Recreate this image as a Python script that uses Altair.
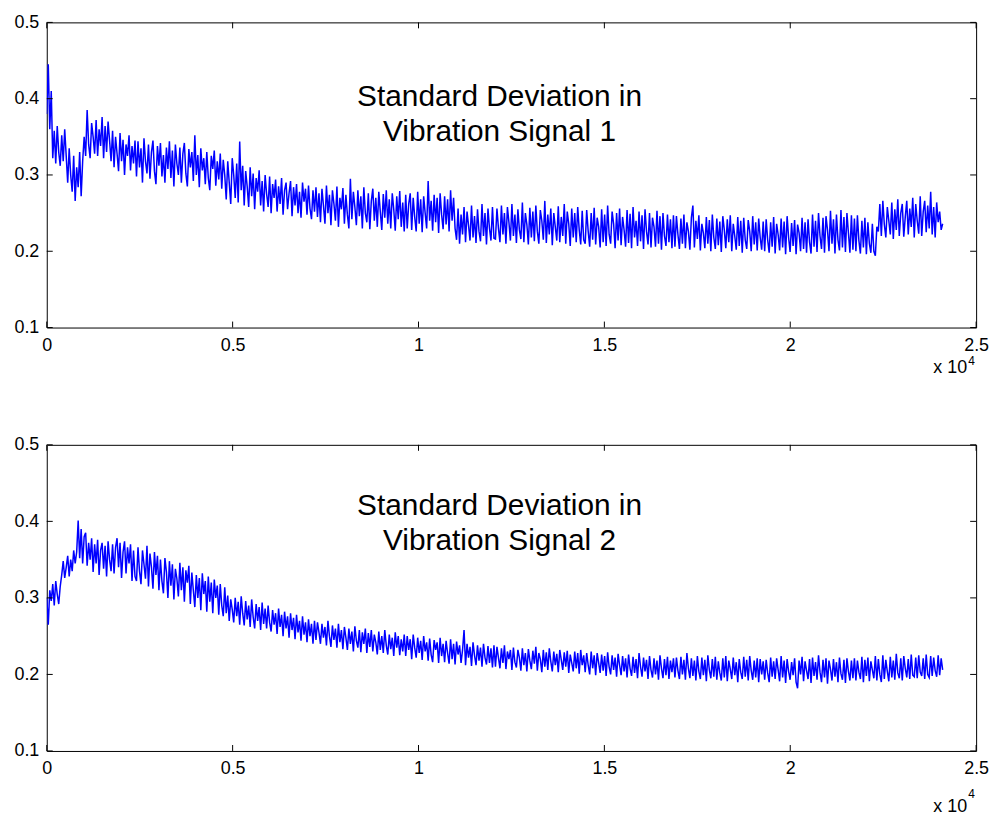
import altair as alt
import numpy as np
import pandas as pd

# ---- Signal 1 (standard deviation, 10 segments of 60 samples) ----
sig1_seg0 = [0.38, 0.445, 0.36, 0.41, 0.322, 0.358, 0.315, 0.364, 0.33, 0.312,
             0.352, 0.318, 0.36, 0.325, 0.29, 0.335, 0.3, 0.278, 0.325, 0.266,
             0.31, 0.284, 0.33, 0.272, 0.318, 0.35, 0.325, 0.385, 0.34, 0.322,
             0.368, 0.35, 0.328, 0.372, 0.325, 0.36, 0.338, 0.376, 0.322, 0.364,
             0.33, 0.37, 0.345, 0.318, 0.358, 0.31, 0.35, 0.328, 0.305, 0.355,
             0.318, 0.346, 0.3, 0.34, 0.325, 0.352, 0.306, 0.338, 0.315, 0.345]
sig1_seg1 = [0.298, 0.344, 0.31, 0.335, 0.29, 0.348, 0.318, 0.302, 0.34, 0.295,
             0.33, 0.345, 0.305, 0.288, 0.338, 0.312, 0.342, 0.298, 0.326, 0.29,
             0.336, 0.308, 0.344, 0.296, 0.332, 0.285, 0.34, 0.315, 0.3, 0.336,
             0.29, 0.328, 0.342, 0.302, 0.285, 0.334, 0.31, 0.33, 0.292, 0.352,
             0.3, 0.326, 0.284, 0.335, 0.306, 0.322, 0.288, 0.33, 0.296, 0.28,
             0.325, 0.308, 0.332, 0.286, 0.318, 0.294, 0.328, 0.282, 0.32, 0.3]
sig1_seg2 = [0.268, 0.318, 0.29, 0.262, 0.322, 0.3, 0.27, 0.315, 0.264, 0.344,
             0.28, 0.312, 0.26, 0.305, 0.285, 0.258, 0.31, 0.272, 0.302, 0.255,
             0.296, 0.278, 0.306, 0.26, 0.292, 0.252, 0.3, 0.275, 0.258, 0.298,
             0.25, 0.288, 0.27, 0.294, 0.252, 0.285, 0.262, 0.296, 0.248, 0.28,
             0.29, 0.255, 0.276, 0.292, 0.246, 0.284, 0.26, 0.288, 0.25, 0.278,
             0.244, 0.29, 0.265, 0.282, 0.248, 0.286, 0.256, 0.242, 0.28, 0.252]
sig1_seg3 = [0.284, 0.245, 0.276, 0.238, 0.282, 0.26, 0.236, 0.286, 0.25, 0.274,
             0.234, 0.28, 0.262, 0.24, 0.285, 0.232, 0.27, 0.255, 0.283, 0.236,
             0.274, 0.248, 0.23, 0.295, 0.242, 0.278, 0.258, 0.234, 0.28, 0.246,
             0.272, 0.23, 0.284, 0.25, 0.238, 0.276, 0.229, 0.266, 0.282, 0.24,
             0.27, 0.232, 0.278, 0.252, 0.228, 0.275, 0.244, 0.28, 0.236, 0.268,
             0.23, 0.276, 0.255, 0.227, 0.272, 0.242, 0.279, 0.232, 0.264, 0.226]
sig1_seg4 = [0.274, 0.23, 0.262, 0.276, 0.228, 0.27, 0.245, 0.226, 0.278, 0.236,
             0.268, 0.225, 0.272, 0.25, 0.23, 0.292, 0.24, 0.266, 0.227, 0.274,
             0.238, 0.27, 0.224, 0.276, 0.248, 0.229, 0.272, 0.235, 0.268, 0.226,
             0.28, 0.24, 0.27, 0.23, 0.215, 0.256, 0.21, 0.248, 0.222, 0.258,
             0.212, 0.252, 0.234, 0.214, 0.26, 0.218, 0.246, 0.211, 0.255, 0.226,
             0.213, 0.262, 0.22, 0.25, 0.209, 0.256, 0.23, 0.214, 0.258, 0.217]
sig1_seg5 = [0.216, 0.256, 0.23, 0.212, 0.26, 0.222, 0.25, 0.21, 0.258, 0.238,
             0.214, 0.262, 0.22, 0.248, 0.211, 0.255, 0.228, 0.216, 0.264, 0.212,
             0.25, 0.235, 0.209, 0.257, 0.218, 0.252, 0.213, 0.26, 0.226, 0.21,
             0.254, 0.24, 0.215, 0.266, 0.211, 0.248, 0.222, 0.256, 0.208, 0.25,
             0.232, 0.214, 0.259, 0.212, 0.245, 0.22, 0.262, 0.21, 0.252, 0.236,
             0.207, 0.256, 0.218, 0.25, 0.212, 0.258, 0.228, 0.209, 0.253, 0.215]
sig1_seg6 = [0.21, 0.254, 0.226, 0.206, 0.25, 0.215, 0.257, 0.209, 0.244, 0.232,
             0.205, 0.255, 0.212, 0.248, 0.207, 0.26, 0.222, 0.21, 0.252, 0.236,
             0.204, 0.25, 0.214, 0.256, 0.208, 0.245, 0.228, 0.206, 0.254, 0.211,
             0.249, 0.204, 0.258, 0.218, 0.24, 0.207, 0.252, 0.213, 0.247, 0.203,
             0.255, 0.226, 0.209, 0.25, 0.205, 0.244, 0.232, 0.206, 0.253, 0.21,
             0.246, 0.202, 0.25, 0.22, 0.207, 0.248, 0.212, 0.242, 0.204, 0.247]
sig1_seg7 = [0.206, 0.246, 0.222, 0.203, 0.243, 0.21, 0.248, 0.204, 0.238, 0.226,
             0.202, 0.244, 0.26, 0.205, 0.24, 0.216, 0.247, 0.201, 0.236, 0.224,
             0.204, 0.245, 0.21, 0.241, 0.2, 0.248, 0.218, 0.203, 0.243, 0.208,
             0.239, 0.199, 0.246, 0.228, 0.204, 0.242, 0.212, 0.247, 0.2, 0.236,
             0.22, 0.202, 0.245, 0.207, 0.24, 0.198, 0.244, 0.215, 0.203, 0.241,
             0.226, 0.2, 0.246, 0.209, 0.238, 0.201, 0.243, 0.218, 0.202, 0.239]
sig1_seg8 = [0.2, 0.242, 0.215, 0.198, 0.238, 0.206, 0.245, 0.197, 0.236, 0.222,
             0.201, 0.243, 0.205, 0.239, 0.196, 0.246, 0.218, 0.199, 0.237, 0.207,
             0.241, 0.196, 0.235, 0.224, 0.2, 0.244, 0.203, 0.238, 0.198, 0.242,
             0.212, 0.197, 0.248, 0.206, 0.24, 0.199, 0.25, 0.22, 0.203, 0.244,
             0.198, 0.246, 0.228, 0.2, 0.253, 0.21, 0.242, 0.197, 0.248, 0.215,
             0.201, 0.254, 0.205, 0.245, 0.199, 0.25, 0.224, 0.198, 0.247, 0.202]
sig1_seg9 = [0.243, 0.2, 0.247, 0.214, 0.197, 0.24, 0.205, 0.244, 0.196, 0.238,
             0.21, 0.198, 0.236, 0.2, 0.194, 0.232, 0.226, 0.262, 0.22, 0.266,
             0.235, 0.218, 0.258, 0.24, 0.222, 0.264, 0.216, 0.255, 0.228, 0.268,
             0.22, 0.25, 0.262, 0.219, 0.245, 0.266, 0.222, 0.256, 0.232, 0.27,
             0.218, 0.262, 0.24, 0.223, 0.272, 0.22, 0.252, 0.266, 0.225, 0.26,
             0.23, 0.278, 0.222, 0.258, 0.218, 0.264, 0.238, 0.252, 0.228, 0.236]

# ---- Signal 2 ----
sig2_seg0 = [0.3, 0.265, 0.31, 0.296, 0.318, 0.29, 0.322, 0.305, 0.292, 0.315,
             0.33, 0.348, 0.326, 0.34, 0.355, 0.328, 0.35, 0.335, 0.362, 0.345,
             0.36, 0.401, 0.352, 0.39, 0.345, 0.38, 0.385, 0.342, 0.372, 0.35,
             0.378, 0.334, 0.37, 0.345, 0.376, 0.33, 0.362, 0.372, 0.338, 0.368,
             0.328, 0.374, 0.35, 0.335, 0.37, 0.332, 0.366, 0.378, 0.34, 0.372,
             0.326, 0.36, 0.374, 0.332, 0.366, 0.345, 0.37, 0.322, 0.362, 0.328]
sig2_seg1 = [0.322, 0.366, 0.335, 0.318, 0.362, 0.344, 0.325, 0.368, 0.315, 0.358,
             0.34, 0.312, 0.36, 0.33, 0.355, 0.31, 0.35, 0.322, 0.306, 0.352,
             0.334, 0.3, 0.348, 0.316, 0.344, 0.298, 0.338, 0.325, 0.302, 0.346,
             0.31, 0.34, 0.295, 0.336, 0.32, 0.342, 0.292, 0.333, 0.31, 0.288,
             0.33, 0.3, 0.326, 0.284, 0.332, 0.305, 0.322, 0.282, 0.328, 0.295,
             0.32, 0.28, 0.324, 0.3, 0.316, 0.278, 0.318, 0.29, 0.276, 0.314]
sig2_seg2 = [0.28, 0.303, 0.27, 0.298, 0.285, 0.268, 0.3, 0.276, 0.295, 0.265,
             0.302, 0.28, 0.264, 0.296, 0.272, 0.29, 0.262, 0.298, 0.275, 0.26,
             0.292, 0.27, 0.288, 0.258, 0.294, 0.266, 0.286, 0.26, 0.29, 0.268,
             0.256, 0.284, 0.265, 0.28, 0.253, 0.286, 0.262, 0.278, 0.25, 0.282,
             0.26, 0.276, 0.248, 0.28, 0.258, 0.274, 0.246, 0.278, 0.255, 0.27,
             0.244, 0.276, 0.252, 0.268, 0.242, 0.272, 0.25, 0.266, 0.24, 0.27]
sig2_seg3 = [0.245, 0.268, 0.255, 0.24, 0.266, 0.248, 0.262, 0.238, 0.27, 0.25,
             0.236, 0.264, 0.245, 0.26, 0.235, 0.266, 0.242, 0.258, 0.233, 0.262,
             0.248, 0.232, 0.26, 0.24, 0.256, 0.23, 0.263, 0.244, 0.235, 0.258,
             0.229, 0.255, 0.24, 0.26, 0.228, 0.254, 0.236, 0.258, 0.23, 0.252,
             0.242, 0.226, 0.256, 0.232, 0.25, 0.228, 0.258, 0.238, 0.226, 0.252,
             0.233, 0.248, 0.224, 0.255, 0.235, 0.25, 0.225, 0.246, 0.23, 0.252]
sig2_seg4 = [0.224, 0.25, 0.232, 0.246, 0.22, 0.252, 0.235, 0.222, 0.248, 0.228,
             0.244, 0.219, 0.25, 0.23, 0.242, 0.218, 0.247, 0.226, 0.216, 0.245,
             0.232, 0.242, 0.215, 0.248, 0.224, 0.24, 0.216, 0.244, 0.228, 0.214,
             0.246, 0.22, 0.24, 0.213, 0.243, 0.226, 0.238, 0.215, 0.232, 0.258,
             0.212, 0.24, 0.222, 0.236, 0.211, 0.242, 0.225, 0.212, 0.238, 0.218,
             0.235, 0.21, 0.24, 0.222, 0.213, 0.237, 0.215, 0.234, 0.209, 0.238]
sig2_seg5 = [0.21, 0.236, 0.222, 0.208, 0.234, 0.215, 0.238, 0.207, 0.23, 0.22,
             0.232, 0.206, 0.235, 0.216, 0.209, 0.232, 0.222, 0.205, 0.234, 0.212,
             0.228, 0.204, 0.233, 0.218, 0.207, 0.231, 0.214, 0.236, 0.205, 0.228,
             0.22, 0.203, 0.232, 0.21, 0.229, 0.206, 0.234, 0.217, 0.204, 0.23,
             0.212, 0.227, 0.203, 0.232, 0.219, 0.206, 0.229, 0.21, 0.231, 0.202,
             0.226, 0.215, 0.204, 0.23, 0.208, 0.228, 0.201, 0.232, 0.212, 0.225]
sig2_seg6 = [0.203, 0.228, 0.212, 0.2, 0.23, 0.208, 0.225, 0.199, 0.228, 0.215,
             0.202, 0.226, 0.205, 0.224, 0.198, 0.229, 0.21, 0.2, 0.225, 0.206,
             0.222, 0.197, 0.227, 0.212, 0.199, 0.224, 0.204, 0.221, 0.196, 0.226,
             0.208, 0.198, 0.223, 0.202, 0.22, 0.195, 0.228, 0.21, 0.197, 0.222,
             0.204, 0.219, 0.194, 0.224, 0.206, 0.196, 0.221, 0.2, 0.218, 0.193,
             0.225, 0.208, 0.195, 0.22, 0.199, 0.223, 0.194, 0.218, 0.203, 0.221]
sig2_seg7 = [0.196, 0.222, 0.205, 0.194, 0.223, 0.2, 0.219, 0.193, 0.228, 0.208,
             0.195, 0.221, 0.198, 0.218, 0.192, 0.224, 0.204, 0.194, 0.222, 0.199,
             0.219, 0.191, 0.225, 0.206, 0.195, 0.22, 0.197, 0.223, 0.193, 0.217,
             0.202, 0.192, 0.221, 0.196, 0.224, 0.191, 0.218, 0.207, 0.194, 0.222,
             0.199, 0.216, 0.19, 0.22, 0.203, 0.194, 0.223, 0.197, 0.219, 0.192,
             0.224, 0.205, 0.193, 0.218, 0.196, 0.221, 0.19, 0.22, 0.2, 0.217]
sig2_seg8 = [0.193, 0.219, 0.202, 0.19, 0.222, 0.197, 0.217, 0.194, 0.221, 0.206,
             0.191, 0.224, 0.196, 0.218, 0.189, 0.22, 0.204, 0.193, 0.216, 0.199,
             0.221, 0.19, 0.182, 0.218, 0.2, 0.223, 0.191, 0.217, 0.205, 0.194,
             0.22, 0.189, 0.222, 0.198, 0.216, 0.193, 0.225, 0.203, 0.19, 0.219,
             0.196, 0.221, 0.188, 0.218, 0.207, 0.192, 0.22, 0.197, 0.216, 0.19,
             0.222, 0.201, 0.193, 0.219, 0.189, 0.221, 0.204, 0.192, 0.218, 0.195]
sig2_seg9 = [0.221, 0.192, 0.218, 0.203, 0.194, 0.223, 0.19, 0.219, 0.198, 0.222,
             0.191, 0.217, 0.206, 0.195, 0.224, 0.192, 0.22, 0.2, 0.19, 0.225,
             0.194, 0.219, 0.204, 0.191, 0.223, 0.196, 0.218, 0.193, 0.227, 0.202,
             0.195, 0.221, 0.192, 0.224, 0.208, 0.196, 0.22, 0.194, 0.226, 0.199,
             0.197, 0.222, 0.195, 0.225, 0.203, 0.198, 0.221, 0.194, 0.226, 0.2,
             0.196, 0.224, 0.198, 0.222, 0.205, 0.197, 0.225, 0.199, 0.221, 0.206]

signal1 = (sig1_seg0 + sig1_seg1 + sig1_seg2 + sig1_seg3 + sig1_seg4
           + sig1_seg5 + sig1_seg6 + sig1_seg7 + sig1_seg8 + sig1_seg9)
signal2 = (sig2_seg0 + sig2_seg1 + sig2_seg2 + sig2_seg3 + sig2_seg4
           + sig2_seg5 + sig2_seg6 + sig2_seg7 + sig2_seg8 + sig2_seg9)

LAST_SAMPLE = 24100
x_ticks = [0, 5000, 10000, 15000, 20000, 25000]
y_ticks = [0.1, 0.2, 0.3, 0.4, 0.5]
title1 = ["Standard Deviation in", "Vibration Signal 1"]
title2 = ["Standard Deviation in", "Vibration Signal 2"]
title1_y = [0.391, 0.345]
title2_y = [0.408, 0.363]
title_x = 12180
exp_text = ["x 10", "4"]

FONT = "Liberation Sans"
W = 935
TICK = 6


def panel(values, titles, title_ys, h, exp_base_y, exp_sup_y):
    n = len(values)
    df = pd.DataFrame({"sample": np.linspace(0, LAST_SAMPLE, n), "std": values})
    xenc = alt.X(
        "sample:Q",
        scale=alt.Scale(domain=[0, 25000], nice=False, zero=False),
        axis=alt.Axis(values=x_ticks, labelExpr="format(datum.value / 10000, '~g')",
                      ticks=False, domain=False, grid=False, labelPadding=9,
                      labelFontSize=18, labelFont=FONT, labelColor="black",
                      labelFlush=False, title=None),
    )
    yenc = alt.Y(
        "std:Q",
        scale=alt.Scale(domain=[0.1, 0.5], nice=False, zero=False),
        axis=alt.Axis(values=y_ticks, format=".1f", ticks=False, domain=False,
                      grid=False, labelPadding=8, labelFontSize=18, labelFont=FONT,
                      labelColor="black", labelFlush=False, title=None),
    )
    line = alt.Chart(df).mark_line(color="#0000ff", strokeWidth=1.5, clip=True).encode(
        x=xenc, y=yenc)

    xt = pd.DataFrame({"sample": x_ticks})
    yt = pd.DataFrame({"std": y_ticks})
    tick_b = alt.Chart(xt).mark_rule(color="black", strokeWidth=1).encode(
        x="sample:Q", y=alt.value(h), y2=alt.value(h - TICK))
    tick_t = alt.Chart(xt).mark_rule(color="black", strokeWidth=1).encode(
        x="sample:Q", y=alt.value(0), y2=alt.value(TICK))
    tick_l = alt.Chart(yt).mark_rule(color="black", strokeWidth=1).encode(
        y="std:Q", x=alt.value(0), x2=alt.value(TICK))
    tick_r = alt.Chart(yt).mark_rule(color="black", strokeWidth=1).encode(
        y="std:Q", x=alt.value(W), x2=alt.value(W - TICK))

    tdf = pd.DataFrame({"sample": [title_x] * len(titles), "std": title_ys, "label": titles})
    ttl = alt.Chart(tdf).mark_text(font=FONT, fontSize=30, color="black",
                                   align="center", baseline="alphabetic").encode(
        x="sample:Q", y="std:Q", text="label:N")

    e1 = alt.Chart(pd.DataFrame({"label": [exp_text[0]]})).mark_text(
        font=FONT, fontSize=18, color="black", align="right", baseline="alphabetic").encode(
        x=alt.value(W - 9), y=alt.value(exp_base_y), text="label:N")
    e2 = alt.Chart(pd.DataFrame({"label": [exp_text[1]]})).mark_text(
        font=FONT, fontSize=12, color="black", align="left", baseline="alphabetic").encode(
        x=alt.value(W - 8), y=alt.value(exp_sup_y), text="label:N")

    return alt.layer(line, tick_b, tick_t, tick_l, tick_r, ttl, e1, e2).properties(
        width=W, height=h)


p1 = panel(signal1, title1, title1_y, 307, 307 + 46, 307 + 38)
p2 = panel(signal2, title2, title2_y, 308, 308 + 61, 308 + 47)

chart = alt.vconcat(p1, p2, spacing=118, bounds="flush").properties(
    padding={"left": 5, "top": 2, "right": 5, "bottom": 5},
    background="white",
).configure_view(stroke="black", strokeWidth=1).configure_axis(
    labelFont=FONT)

chart.save("out.html", embed_options={"renderer": "svg", "actions": False})
